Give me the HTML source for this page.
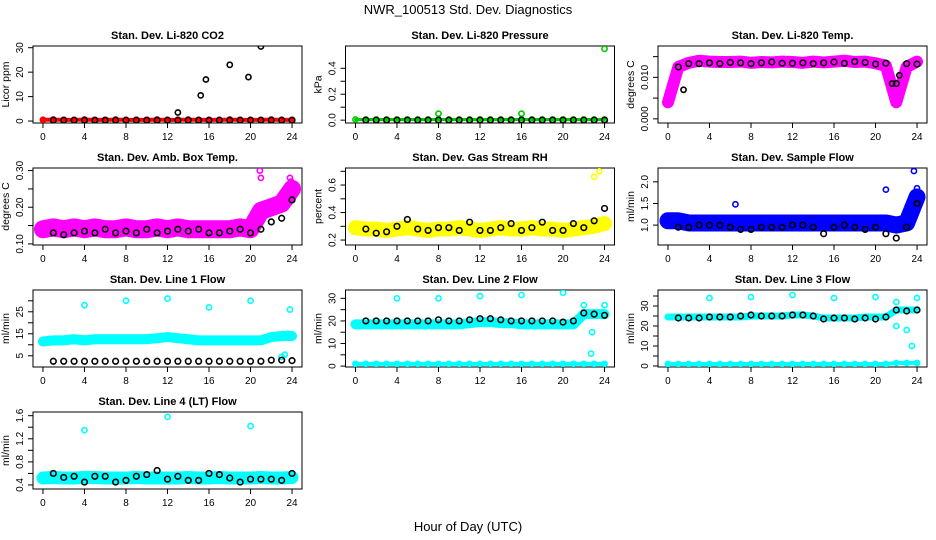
<!DOCTYPE html>
<html><head><meta charset="utf-8">
<style>
html,body{margin:0;padding:0;background:#fff;}
svg{display:block;font-family:"Liberation Sans",Arial,sans-serif;}
</style></head>
<body>
<svg id="chart" width="936" height="540" viewBox="0 0 936 540" xmlns="http://www.w3.org/2000/svg">
<text x="468" y="14" text-anchor="middle" font-size="13">NWR_100513  Std. Dev. Diagnostics</text>
<text x="468" y="531" text-anchor="middle" font-size="13">Hour of Day (UTC)</text>
<g id="panels"></g>
</svg>
<script>
const hours = [0,1,2,3,4,5,6,7,8,9,10,11,12,13,14,15,16,17,18,19,20,21,22,23,24];
const xTicks = [0,4,8,12,16,20,24];

// Panel 1: CO2
const co2Col = [0.5,0.6,0.5,0.5,0.6,0.5,0.5,0.6,0.5,0.5,0.5,0.6,0.5,0.5,0.6,0.5,0.5,0.5,0.6,0.5,0.5,0.5,0.6,0.5,0.5];
const co2Blk = [null,0.3,0.3,0.3,0.3,0.3,0.3,0.3,0.3,0.3,0.3,0.3,0.3,0.3,0.3,0.3,0.3,0.3,0.3,0.3,0.3,0.3,0.3,0.3,0.3];
const co2OutH = [13,15.2,15.7,18,19.8,21];
const co2OutV = [3.5,10.5,17,23,18,30.5];
const co2Ticks = [0,10,20,30];
// Panel 2: Pressure
const presCol = [0.005,0.005,0.005,0.005,0.005,0.005,0.005,0.005,0.005,0.005,0.005,0.005,0.005,0.005,0.005,0.005,0.005,0.005,0.005,0.005,0.005,0.005,0.005,0.005,0.005];
const presBlk = [null,0,0,0,0,0,0,0,0,0,0,0,0,0,0,0,0,0,0,0,0,0,0,0,0];
const presOutH = [8,16,24];
const presOutV = [0.05,0.05,0.55];
const presTicks = [0,0.1,0.2,0.3,0.4];
const presLabels = ["0.0","","0.2","","0.4"];
// Panel 3: Li-820 temp
const tempCol = [0.004,0.0125,0.0135,0.014,0.0138,0.0137,0.0137,0.0138,0.0135,0.0137,0.0136,0.0138,0.0137,0.0135,0.0138,0.0136,0.0138,0.014,0.0137,0.0138,0.0134,0.0128,0.004,0.0125,0.0138];
const tempBlk = [null,0.0125,0.0133,0.0133,0.0135,0.0133,0.0136,0.0135,0.0133,0.0135,0.0137,0.0134,0.0134,0.0135,0.0133,0.0135,0.0137,0.0134,0.0138,0.0136,0.0132,0.0134,0.0085,0.0133,0.0132];
const tempOutH = [1.5,21.6,22.3];
const tempOutV = [0.007,0.0085,0.0105];
const tempTicks = [0,0.005,0.01,0.015];
const tempLabels = ["0.000","","0.010",""];
// Panel 4: Amb box temp
const boxCol = [0.14,0.145,0.14,0.145,0.14,0.145,0.14,0.14,0.145,0.14,0.14,0.145,0.14,0.145,0.14,0.14,0.14,0.14,0.14,0.145,0.14,0.19,0.2,0.21,0.25];
const boxBlk = [null,0.13,0.125,0.13,0.135,0.13,0.14,0.13,0.135,0.13,0.14,0.13,0.135,0.14,0.135,0.14,0.13,0.13,0.135,0.14,0.13,0.14,0.16,0.17,0.22];
const boxOutH = [20.9,21,23.8,23.9];
const boxOutV = [0.30,0.28,0.28,0.27];
const boxTicks = [0.10,0.15,0.20,0.25,0.30];
const boxLabels = ["0.10","","0.20","","0.30"];
// Panel 5: RH
const rhCol = [0.29,0.28,0.28,0.27,0.28,0.29,0.28,0.27,0.28,0.28,0.29,0.28,0.27,0.28,0.29,0.28,0.28,0.29,0.28,0.28,0.27,0.28,0.29,0.3,0.32];
const rhBlk = [null,0.28,0.25,0.26,0.3,0.35,0.28,0.27,0.29,0.29,0.27,0.33,0.27,0.27,0.29,0.32,0.27,0.29,0.33,0.27,0.27,0.32,0.29,0.34,0.43];
const rhOutH = [23,23.5];
const rhOutV = [0.66,0.70];
const rhTicks = [0.2,0.3,0.4,0.5,0.6,0.7];
const rhLabels = ["0.2","","0.4","","0.6",""];
// Panel 6: Sample flow
const sfCol = [1.1,1.1,1.05,1.05,1.05,1.05,1.05,1.05,1.05,1.05,1.05,1.05,1.05,1.05,1.05,1.05,1.05,1.05,1.05,1.05,1.05,1.05,1.0,1.05,1.65];
const sfBlk = [null,0.95,0.95,1.0,1.0,1.0,0.95,0.9,0.9,0.95,0.95,0.95,1.0,1.0,0.95,0.8,0.95,1.0,0.95,0.9,0.95,0.8,0.7,0.95,1.5];
const sfOutH = [6.5,21,23.7,24];
const sfOutV = [1.48,1.82,2.25,1.85];
const sfTicks = [1.0,1.5,2.0];
const sfLabels = ["1.0","1.5","2.0"];
// Panel 7: Line 1
const l1Col = [11.5,12,12,12.5,12,12.5,12.5,12.5,12.5,12.5,12.5,13,13.5,13,12.5,12,12,12,12,12,12,12,13.5,14,14];
const l1Blk = [null,2.5,2.5,2.5,2.5,2.5,2.5,2.5,2.5,2.5,2.5,2.5,2.5,2.5,2.5,2.5,2.5,2.5,2.5,2.5,2.5,2.5,3,3,2.8];
const l1OutH = [4,8,12,16,20,23.8,23,23.3,23.6];
const l1OutV = [28,30,31,27,30,26,4.5,5.5,15];
const l1Ticks = [5,10,15,20,25,30];
const l1Labels = ["5","","15","","25",""];
// Panel 8: Line 2
const l2Col = [18.5,18.5,18.5,18.5,18.5,18.5,18.5,18.5,18.5,18.5,18.5,19,19.5,19.5,19,19,18.5,18.5,18.5,18.5,18.5,18.5,23,23,23];
const l2Low = [1,1,1,1,1,1,1,1,1,1,1,1,1,1,1,1,1,1,1,1,1,1,1,1,1];
const l2Blk = [null,20,20,20,20,20,20,20,20.5,20,20,20.5,21,21,20.5,20,20,20,20,20,19.5,20,23.5,23,22.5];
const l2OutH = [4,8,12,16,20,22,24,22.8,22.7];
const l2OutV = [30,30,31,31.5,32.5,27,27,15,5.5];
const l2Ticks = [0,5,10,15,20,25,30];
const l2Labels = ["0","","10","","20","","30"];
// Panel 9: Line 3
const l3Col = [24.5,24.5,24.5,24.5,24.5,24.5,24.5,24.5,25,25,25,25,25.5,25.5,25,24,24,24,24,24.5,24.5,24.5,28,28,28];
const l3Low = [1,1,1,1,1,1,1,1,1,1,1,1,1,1,1,1,1,1,1,1,1,1,1.5,1.5,1.5];
const l3Blk = [null,24,24,24,24.5,24.5,24.5,25,25.5,25,25,25,25.5,25.5,25,23.5,24,24,23.5,24,23.5,24.5,28,27.5,28];
const l3OutH = [4,8,12,16,20,24,22,23,23.5,22];
const l3OutV = [34,34.5,35.5,34,34.5,34,32,18,10,20];
const l3Ticks = [0,5,10,15,20,25,30,35];
const l3Labels = ["0","","10","","20","","30",""];
// Panel 10: Line 4
const l4Col = [0.52,0.53,0.52,0.52,0.53,0.53,0.52,0.52,0.52,0.53,0.52,0.52,0.52,0.52,0.53,0.52,0.52,0.53,0.52,0.52,0.52,0.53,0.52,0.52,0.53];
const l4Blk = [null,0.6,0.53,0.55,0.45,0.55,0.55,0.45,0.48,0.55,0.58,0.65,0.5,0.55,0.48,0.48,0.6,0.58,0.52,0.45,0.5,0.5,0.5,0.48,0.6];
const l4OutH = [4,12,20];
const l4OutV = [1.35,1.58,1.42];
const l4Ticks = [0.4,0.6,0.8,1.0,1.2,1.4,1.6];
const l4Labels = ["0.4","","0.8","","1.2","","1.6"];

const NS = "http://www.w3.org/2000/svg";
const root = document.getElementById('panels');
function mk(tag, attrs, parent){ const e=document.createElementNS(NS,tag); for(const k in attrs) e.setAttribute(k,attrs[k]); parent.appendChild(e); return e; }

const colLeft = [33,345.5,658], rowTop = [46,168,290,412], W = 269, H = 77;

function panel(p){
  const L = colLeft[p.column], T = rowTop[p.row];
  const g = mk('g',{},root);
  
  
  const xs = h => L + (h + 0.96) / 25.92 * W;
  const ys = v => T + H - (v - p.ymin) / (p.ymax - p.ymin) * H;
  const t = mk('text',{x:L+W/2,y:T-7,'text-anchor':'middle','font-size':'11','font-weight':'bold'},g);
  t.textContent = p.title;
  
  
  const box = mk('rect',{x:L,y:T,width:W,height:H,fill:'none',stroke:'#000','stroke-width':1},g);
  
  
  xTicks.forEach(h=>{
    const x = xs(h);
    mk('line',{x1:x,y1:T+H,x2:x,y2:T+H+5,stroke:'#000'},g);
    const lb = mk('text',{x:x,y:T+H+17,'text-anchor':'middle','font-size':'10'},g);
    lb.textContent = h;
    
    
  });
  p.ticks.forEach((v,i)=>{
    const y = ys(v);
    mk('line',{x1:L-5,y1:y,x2:L,y2:y,stroke:'#000'},g);
    const s = p.labels ? p.labels[i] : String(v);
    if(s!==''){
      const lb = mk('text',{x:L-10,y:y,'text-anchor':'middle','font-size':'10',transform:`rotate(-90 ${L-10} ${y})`},g);
      lb.textContent = s;
      
      
    }
  });
  const yt = mk('text',{x:L-24,y:T+H/2,'text-anchor':'middle','font-size':'10.5',transform:`rotate(-90 ${L-24} ${T+H/2})`},g);
  yt.textContent = p.ytitle;
  
  
  const cid = 'clip'+p.name;
  const cp = mk('clipPath',{id:cid},g);
  mk('rect',{x:L,y:T,width:W,height:H},cp);
  const dg = mk('g',{'clip-path':`url(#${cid})`},g);
  function band(arr,color,sw){
    const pts = hours.map((h,i)=>`${xs(h)},${ys(arr[i])}`).join(' ');
    const pl = mk('polyline',{points:pts,fill:'none',stroke:color,'stroke-width':sw,'stroke-linejoin':'round','stroke-linecap':'round'},dg);
    
    
    hours.forEach((h,i)=>{
      const c = mk('circle',{cx:xs(h),cy:ys(arr[i]),r:2.6,fill:'none',stroke:color,'stroke-width':1.6},dg);
      
      
    });
  }
  band(p.cdata,p.color,p.sw);
  if(p.low) band(p.low,p.color,4);
  p.outH.forEach((h,i)=>{
    const c = mk('circle',{cx:xs(h),cy:ys(p.outV[i]),r:2.6,fill:'none',stroke:p.outColor,'stroke-width':1.6},dg);
    
    
  });
  hours.forEach((h,i)=>{
    if(p.blk[i]===null) return;
    const c = mk('circle',{cx:xs(h),cy:ys(p.blk[i]),r:2.8,fill:'none',stroke:'#000','stroke-width':1.6},dg);
    
    
  });
}

panel({name:'panel-co2',row:0,column:0,title:'Stan. Dev. Li-820 CO2',ytitle:'Licor ppm',ymin:-0.8,ymax:30.7,ticks:co2Ticks,cdata:co2Col,blk:co2Blk,outH:co2OutH,outV:co2OutV,outColor:'#000',color:'#ff0000',sw:4});
panel({name:'panel-pressure',row:0,column:1,title:'Stan. Dev. Li-820 Pressure',ytitle:'kPa',ymin:-0.022,ymax:0.572,ticks:presTicks,labels:presLabels,cdata:presCol,blk:presBlk,outH:presOutH,outV:presOutV,outColor:'#00cc00',color:'#00cc00',sw:3});
panel({name:'panel-temp',row:0,column:2,title:'Stan. Dev. Li-820 Temp.',ytitle:'degrees C',ymin:-0.001,ymax:0.01756,ticks:tempTicks,labels:tempLabels,cdata:tempCol,blk:tempBlk,outH:tempOutH,outV:tempOutV,outColor:'#000',color:'#ff00ff',sw:12});
panel({name:'panel-box-temp',row:1,column:0,title:'Stan. Dev. Amb. Box Temp.',ytitle:'degrees C',ymin:0.097,ymax:0.307,ticks:boxTicks,labels:boxLabels,cdata:boxCol,blk:boxBlk,outH:boxOutH,outV:boxOutV,outColor:'#ff00ff',color:'#ff00ff',sw:18});
panel({name:'panel-rh',row:1,column:1,title:'Stan. Dev. Gas Stream RH',ytitle:'percent',ymin:0.164,ymax:0.724,ticks:rhTicks,labels:rhLabels,cdata:rhCol,blk:rhBlk,outH:rhOutH,outV:rhOutV,outColor:'#ffff00',color:'#ffff00',sw:15});
panel({name:'panel-sample-flow',row:1,column:2,title:'Stan. Dev. Sample Flow',ytitle:'ml/min',ymin:0.54,ymax:2.32,ticks:sfTicks,labels:sfLabels,cdata:sfCol,blk:sfBlk,outH:sfOutH,outV:sfOutV,outColor:'#0000ff',color:'#0000ff',sw:17});
panel({name:'panel-line1',row:2,column:0,title:'Stan. Dev. Line 1 Flow',ytitle:'ml/min',ymin:-0.1,ymax:34.9,ticks:l1Ticks,labels:l1Labels,cdata:l1Col,blk:l1Blk,outH:l1OutH,outV:l1OutV,outColor:'#00ffff',color:'#00ffff',sw:10});
panel({name:'panel-line2',row:2,column:1,title:'Stan. Dev. Line 2 Flow',ytitle:'ml/min',ymin:-0.4,ymax:33.7,ticks:l2Ticks,labels:l2Labels,cdata:l2Col,low:l2Low,blk:l2Blk,outH:l2OutH,outV:l2OutV,outColor:'#00ffff',color:'#00ffff',sw:10});
panel({name:'panel-line3',row:2,column:2,title:'Stan. Dev. Line 3 Flow',ytitle:'ml/min',ymin:-0.5,ymax:38,ticks:l3Ticks,labels:l3Labels,cdata:l3Col,low:l3Low,blk:l3Blk,outH:l3OutH,outV:l3OutV,outColor:'#00ffff',color:'#00ffff',sw:7});
panel({name:'panel-line4',row:3,column:0,title:'Stan. Dev. Line 4 (LT) Flow',ytitle:'ml/min',ymin:0.33,ymax:1.664,ticks:l4Ticks,labels:l4Labels,cdata:l4Col,blk:l4Blk,outH:l4OutH,outV:l4OutV,outColor:'#00ffff',color:'#00ffff',sw:13});
</script>
</body></html>
